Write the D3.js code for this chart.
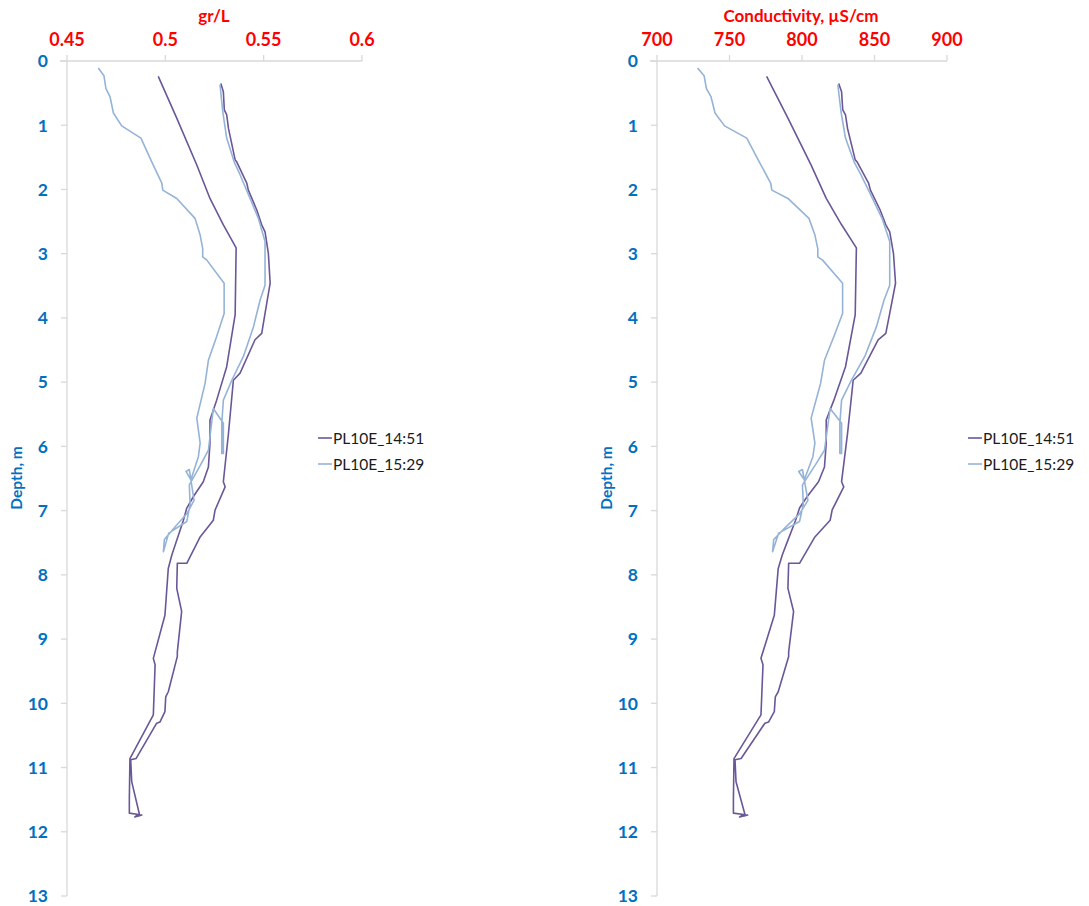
<!DOCTYPE html>
<html>
<head>
<meta charset="utf-8">
<script src="https://cdn.jsdelivr.net/npm/d3@7"></script>
<style>
  body { margin: 0; background: #fff; }
  svg { display: block; }
  text { font-family: Lato, "Open Sans", sans-serif; }
</style>
</head>
<body>
<svg id="chart" width="1089" height="906"></svg>
<script>
// Depth profiles PL10E, two casts (14:51 and 15:29)
const seriesNames = ["PL10E_14:51", "PL10E_15:29"];
const seriesColors = ["#6a5798", "#95b3d7"];

// Cast 14:51 — depth (m), salinity (gr/L), conductivity (µS/cm)
const depth1451 = [0.24, 0.89, 1.62, 2.14, 2.55, 2.91, 3.95, 4.76, 5.28, 5.59, 5.95, 6.32, 6.55, 6.78, 6.96, 7.15, 7.46, 7.69, 7.90, 8.63,
  9.30, 9.40, 10.18, 10.86, 11.48, 11.71, 11.73, 11.77, 11.74, 11.76, 11.75, 11.22, 10.88, 10.86, 10.31, 10.29, 10.13, 9.90, 9.82, 9.27, 9.20, 8.57,
  8.21, 7.82, 7.82, 7.41, 7.15, 6.99, 6.63, 6.55, 5.80, 4.97, 4.86, 4.34, 4.24, 3.93, 3.46, 3.00, 2.66, 2.55, 2.32, 2.01,
  1.90, 1.57, 1.54, 1.05, 0.84, 0.76, 0.48, 0.35];
const grl1451 = [0.4964, 0.5058, 0.5160, 0.5227, 0.5295, 0.5360, 0.5355, 0.5312, 0.5261, 0.5227, 0.5227, 0.5219, 0.5193, 0.5143, 0.5109, 0.5092, 0.5058, 0.5033, 0.5015, 0.4998,
  0.4939, 0.4948, 0.4939, 0.4820, 0.4817, 0.4817, 0.4863, 0.4845, 0.4880, 0.4852, 0.4870, 0.4829, 0.4824, 0.4851, 0.4956, 0.4973, 0.4998, 0.5002, 0.5015, 0.5061, 0.5061, 0.5083,
  0.5058, 0.5061, 0.5109, 0.5177, 0.5244, 0.5253, 0.5304, 0.5295, 0.5321, 0.5346, 0.5380, 0.5456, 0.5490, 0.5507, 0.5533, 0.5524, 0.5507, 0.5490, 0.5465, 0.5422,
  0.5414, 0.5363, 0.5355, 0.5321, 0.5312, 0.5300, 0.5295, 0.5282];
const cond1451 = [775.6, 790.3, 806.3, 816.7, 827.3, 837.5, 836.7, 830.0, 822.0, 816.7, 816.7, 815.5, 811.4, 803.6, 798.3, 795.6, 790.3, 786.4, 783.6, 780.9,
  771.7, 773.1, 771.7, 753.1, 752.7, 752.7, 759.8, 757.0, 762.5, 758.1, 760.9, 754.5, 753.8, 758.0, 774.4, 777.0, 780.9, 781.6, 783.6, 790.8, 790.8, 794.2,
  790.3, 790.8, 798.3, 808.9, 819.4, 820.8, 828.8, 827.3, 831.4, 835.3, 840.6, 852.5, 857.8, 860.5, 864.5, 863.1, 860.5, 857.8, 853.9, 847.2,
  845.9, 838.0, 836.7, 831.4, 830.0, 828.1, 827.3, 825.3];

// Cast 15:29 — depth (m), salinity (gr/L), conductivity (µS/cm)
const depth1529 = [0.11, 0.23, 0.43, 0.56, 0.81, 1.01, 1.20, 1.57, 1.90, 2.01, 2.14, 2.45, 2.71, 2.92, 3.05, 3.10, 3.46, 3.93, 4.29, 4.66,
  5.02, 5.56, 5.95, 6.16, 6.52, 6.39, 6.36, 6.84, 7.05, 7.25, 7.45, 7.64, 7.35, 7.17, 6.90, 6.60, 6.30, 6.06, 5.41, 5.64,
  6.11, 6.11, 5.64, 5.28, 4.97, 4.60, 4.14, 3.72, 3.49, 2.81, 2.45, 2.14, 1.77, 1.57, 1.20, 0.79, 0.37];
const grl1529 = [0.4659, 0.4688, 0.4698, 0.4719, 0.4736, 0.4778, 0.4876, 0.4931, 0.4982, 0.4987, 0.5058, 0.5151, 0.5177, 0.5190, 0.5190, 0.5211, 0.5299, 0.5299, 0.5261, 0.5219,
  0.5202, 0.5160, 0.5177, 0.5168, 0.5130, 0.5105, 0.5122, 0.5146, 0.5109, 0.5050, 0.4995, 0.4990, 0.5017, 0.5109, 0.5126, 0.5122, 0.5177, 0.5219, 0.5244, 0.5295,
  0.5295, 0.5287, 0.5287, 0.5295, 0.5338, 0.5397, 0.5448, 0.5482, 0.5507, 0.5507, 0.5473, 0.5431, 0.5380, 0.5350, 0.5312, 0.5292, 0.5278];
const cond1529 = [728.0, 732.5, 734.1, 737.3, 740.0, 746.6, 761.9, 770.5, 778.4, 779.2, 790.3, 804.8, 808.9, 810.9, 810.9, 814.2, 828.0, 828.0, 822.0, 815.5,
  812.8, 806.3, 808.9, 807.5, 801.6, 797.7, 800.3, 804.1, 798.3, 789.1, 780.5, 779.7, 783.9, 798.3, 800.9, 800.3, 808.9, 815.5, 819.4, 827.3,
  827.3, 826.1, 826.1, 827.3, 834.1, 843.3, 851.3, 856.6, 860.5, 860.5, 855.2, 848.6, 840.6, 835.9, 830.0, 826.9, 824.7];

// Axis tick labels
const depthTicks = [0, 1, 2, 3, 4, 5, 6, 7, 8, 9, 10, 11, 12, 13];
const grlTicks = [0.45, 0.5, 0.55, 0.6];
const condTicks = [700, 750, 800, 850, 900];

const svg = d3.select("#chart");
const axisGrey = "#d9d9d9";
const red = "#ff0000";
const blue = "#0070c0";

function panel(opts) {
  const g = svg.append("g");
  const x = d3.scaleLinear().domain(opts.xDomain).range([opts.x0, opts.x1]);
  const y = d3.scaleLinear().domain([0, 13]).range([61, 896]);

  // value axis along the top
  g.append("line").attr("x1", opts.x0 - 7).attr("x2", opts.x1).attr("y1", y(0)).attr("y2", y(0))
    .attr("stroke", axisGrey).attr("stroke-width", 1.3);
  g.selectAll(".xt").data(opts.xTicks).join("line")
    .attr("x1", d => x(d)).attr("x2", d => x(d)).attr("y1", y(0) - 6).attr("y2", y(0))
    .attr("stroke", axisGrey).attr("stroke-width", 1.3);
  g.selectAll(".xl").data(opts.xTicks).join("text")
    .attr("x", d => x(d)).attr("y", 46).attr("text-anchor", "middle")
    .attr("fill", red).attr("font-weight", "bold").attr("font-size", 18)
    .text(opts.fmt);
  g.append("text").attr("x", opts.titleX).attr("y", 22).attr("text-anchor", "middle")
    .attr("fill", red).attr("font-weight", "bold").attr("font-size", 17).text(opts.title);

  // depth axis
  g.append("line").attr("x1", opts.x0).attr("x2", opts.x0).attr("y1", y(0)).attr("y2", y(13))
    .attr("stroke", axisGrey).attr("stroke-width", 1.3);
  g.selectAll(".yt").data(depthTicks).join("line")
    .attr("x1", opts.x0 - 6).attr("x2", opts.x0).attr("y1", d => y(d)).attr("y2", d => y(d))
    .attr("stroke", axisGrey).attr("stroke-width", 1.3);
  g.selectAll(".yl").data(depthTicks).join("text")
    .attr("x", opts.x0 - 19).attr("y", d => y(d)).attr("dy", "0.36em").attr("text-anchor", "end")
    .attr("fill", blue).attr("font-weight", "bold").attr("font-size", 17.5).text(d => d);
  g.append("text").attr("transform", `translate(${opts.x0 - 50},478) rotate(-90)`)
    .attr("text-anchor", "middle").attr("dy", "0.35em")
    .attr("fill", blue).attr("font-weight", "bold").attr("font-size", 15.5).text("Depth, m");

  // profiles
  const line = d3.line().x(d => x(d[0])).y(d => y(d[1]));
  opts.series.forEach((s, i) => {
    const pts = s.vals.map((v, k) => [v, s.depth[k]]);
    g.append("path").datum(pts).attr("d", line)
      .attr("fill", "none").attr("stroke", seriesColors[i]).attr("stroke-width", 1.6)
      .attr("stroke-linejoin", "round");
  });

  // legend
  seriesNames.forEach((n, i) => {
    const ly = 438 + i * 26;
    g.append("line").attr("x1", opts.legendX).attr("x2", opts.legendX + 14).attr("y1", ly).attr("y2", ly)
      .attr("stroke", seriesColors[i]).attr("stroke-width", 1.6);
    g.append("text").attr("x", opts.legendX + 15).attr("y", ly).attr("dy", "0.36em")
      .attr("fill", "#1a1a1a").attr("font-size", 15.5).text(n);
  });
}

panel({
  xDomain: [0.45, 0.6], x0: 67, x1: 362, xTicks: grlTicks,
  fmt: d => String(d), title: "gr/L", titleX: 214, legendX: 318,
  series: [{ vals: grl1451, depth: depth1451 }, { vals: grl1529, depth: depth1529 }]
});

panel({
  xDomain: [700, 900], x0: 657, x1: 947, xTicks: condTicks,
  fmt: d => String(d), title: "Conductivity, µS/cm", titleX: 801, legendX: 968,
  series: [{ vals: cond1451, depth: depth1451 }, { vals: cond1529, depth: depth1529 }]
});
</script>
</body>
</html>
